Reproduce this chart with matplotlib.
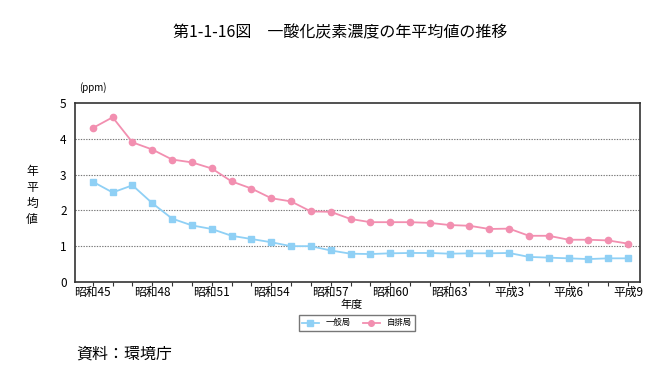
import matplotlib.pyplot as plt

plt.rcParams['font.family'] = ['Noto Sans CJK JP', 'DejaVu Sans']

# 昭和45 (1970) - 平成9 (1997)
years = ['昭和45', '46', '47', '昭和48', '49', '50', '昭和51', '52', '53', '昭和54',
         '55', '56', '昭和57', '58', '59', '昭和60', '61', '62', '昭和63', '平成元',
         '2', '平成3', '4', '5', '平成6', '7', '8', '平成9']
ippan = [2.8, 2.5, 2.7, 2.2, 1.77, 1.58, 1.48, 1.29, 1.2, 1.11,
         1.0, 1.0, 0.88, 0.79, 0.78, 0.8, 0.81, 0.81, 0.79, 0.8,
         0.8, 0.81, 0.7, 0.68, 0.66, 0.64, 0.66, 0.66]
jihai = [4.3, 4.6, 3.9, 3.7, 3.42, 3.34, 3.17, 2.81, 2.61, 2.34,
         2.25, 1.97, 1.96, 1.76, 1.67, 1.67, 1.67, 1.65, 1.59, 1.57,
         1.48, 1.49, 1.29, 1.29, 1.18, 1.18, 1.16, 1.07]
tick_idx = [0, 3, 6, 9, 12, 15, 18, 21, 24, 27]

fig = plt.figure(figsize=(6.67, 3.9), dpi=100)
ax = fig.add_axes([0.1124, 0.277, 0.847, 0.459])

x = list(range(len(years)))
ax.plot(x, ippan, color='#8fd0f5', marker='s', markersize=4.5, linewidth=1.3, label='一般局')
ax.plot(x, jihai, color='#f28fb0', marker='o', markersize=4.5, linewidth=1.3, label='自排局')

ax.set_xlim(-0.9, 27.6)
ax.set_ylim(0, 5)
ax.set_yticks([0, 1, 2, 3, 4, 5])
ax.set_xticks(x)
ax.set_xticklabels(['' for _ in x])
# only every third year gets a label
for i in tick_idx:
    ax.text(i, -0.11, years[i], ha='center', va='top', fontsize=8.5)
ax.tick_params(axis='x', length=3, direction='out', color='#333333')
ax.tick_params(axis='y', length=0, labelsize=8.5, pad=6)
for yv in [1, 2, 3, 4]:
    ax.axhline(yv, color='#777777', linestyle=(0, (1.2, 1.2)), linewidth=0.8, zorder=0)
for s in ax.spines.values():
    s.set_color('#333333')
    s.set_linewidth(1.2)

fig.text(0.51, 0.915, '第1-1-16図　一酸化炭素濃度の年平均値の推移', ha='center', va='center', fontsize=11.5)
fig.text(0.118, 0.775, '(ppm)', ha='left', va='center', fontsize=7)
fig.text(0.048, 0.5, '年\n平\n均\n値', ha='center', va='center', fontsize=8.5, linespacing=1.3)
fig.text(0.527, 0.218, '年度', ha='center', va='center', fontsize=8)
fig.text(0.115, 0.093, '資料：環境庁', ha='left', va='center', fontsize=11.5)

leg = fig.legend(loc='center', bbox_to_anchor=(0.535, 0.172), ncol=2, fontsize=6,
                 frameon=True, fancybox=False, edgecolor='#555555', handlelength=2,
                 markerscale=0.9, borderpad=0.4, columnspacing=1.5)

plt.savefig('out.png', dpi=100)
